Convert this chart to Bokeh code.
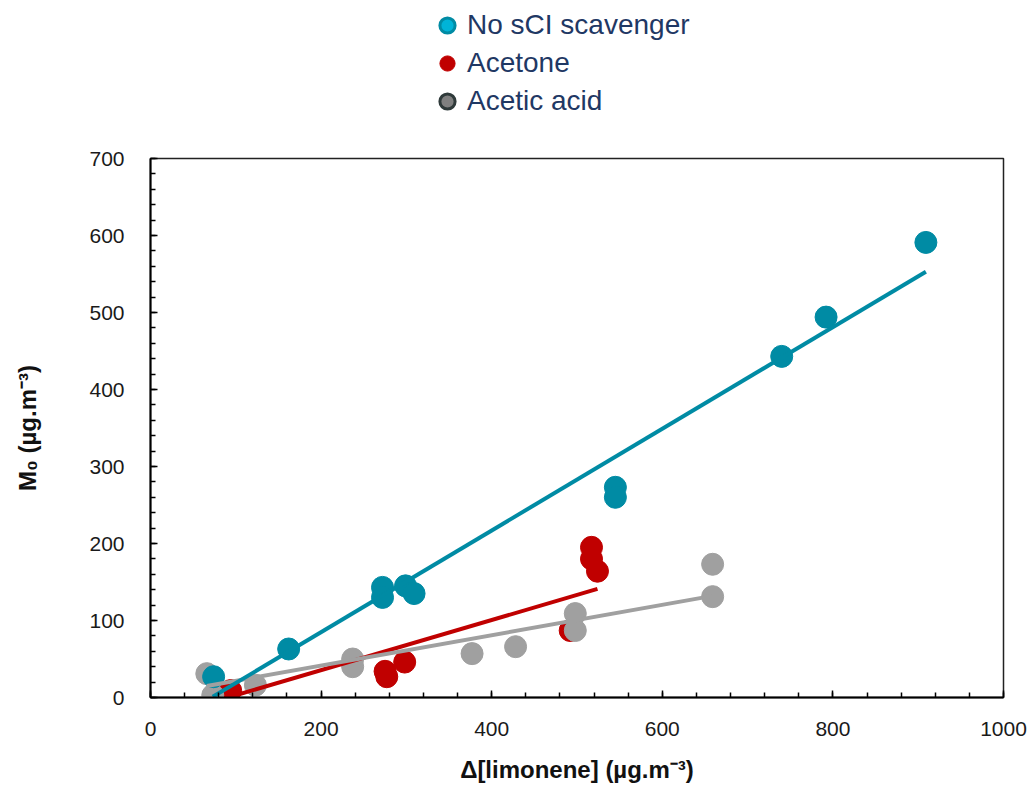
import numpy as np
from bokeh.plotting import figure
from bokeh.layouts import column
from bokeh.models import (ColumnDataSource, Range1d, SingleIntervalTicker,
                          Legend, LegendItem)
from bokeh.embed import file_html
from bokeh.resources import INLINE

# Series: Δ[limonene] (µg m-3) vs M0 (µg m-3)
no_scav_x = [74, 162, 272, 272, 299, 309, 545, 545, 740, 792, 909]
no_scav_y = [27, 63, 143, 130, 145, 135, 273, 260, 443, 494, 591]

acetone_x = [94, 275, 277, 298, 492, 517, 517, 524]
acetone_y = [9, 34, 27, 46, 87, 195, 180, 164]

acetic_x = [66, 73, 123, 237, 237, 377, 428, 498, 498, 659, 659]
acetic_y = [31, 3, 16, 50, 40, 57, 66, 109, 87, 173, 131]

# Linear trend lines (endpoints over each series' range)
no_scav_fit_x = [73, 909]
no_scav_fit_y = [1, 553]
acetone_fit_x = [97, 524]
acetone_fit_y = [2, 141]
acetic_fit_x = [66, 659]
acetic_fit_y = [15, 132]

series_names = ["No sCI scavenger", "Acetone", "Acetic acid"]

TEAL = "#008BA4"
RED = "#C00000"
GREY = "#A0A0A0"
FONT = "Liberation Sans"

# ---- main scatter plot ----
p = figure(width=1034, height=657, output_backend="svg", toolbar_location=None,
           x_range=Range1d(0, 1000), y_range=Range1d(0, 700),
           min_border_left=150, min_border_right=31,
           min_border_top=28, min_border_bottom=90)
p.xgrid.visible = False
p.ygrid.visible = False
p.outline_line_color = "#222222"
p.outline_line_width = 1.5
p.background_fill_color = "white"
p.border_fill_color = "white"

# markers: acetone below acetic acid, no-scavenger on top
p.scatter(acetone_x, acetone_y, size=22, fill_color=RED, line_color=RED)
p.scatter(acetic_x, acetic_y, size=22, fill_color=GREY, line_color=GREY)
p.scatter(no_scav_x, no_scav_y, size=22, fill_color=TEAL, line_color=TEAL)

# trend lines
p.line(acetone_fit_x, acetone_fit_y, line_color=RED, line_width=4)
p.line(acetic_fit_x, acetic_fit_y, line_color=GREY, line_width=4)
p.line(no_scav_fit_x, no_scav_fit_y, line_color=TEAL, line_width=4)

# axes
p.xaxis.ticker = SingleIntervalTicker(interval=200, num_minor_ticks=5)
p.yaxis.ticker = SingleIntervalTicker(interval=100, num_minor_ticks=5)
for ax in (p.xaxis[0], p.yaxis[0]):
    ax.axis_line_color = "black"
    ax.axis_line_width = 2
    ax.major_tick_in = 7
    ax.major_tick_out = 0
    ax.minor_tick_in = 5
    ax.minor_tick_out = 0
    ax.major_tick_line_color = "black"
    ax.major_tick_line_width = 1.5
    ax.minor_tick_line_color = "black"
    ax.minor_tick_line_width = 1.5
    ax.major_label_text_font = FONT
    ax.major_label_text_font_size = "21px"
    ax.major_label_text_color = "#1a1a1a"
    ax.axis_label_text_font = FONT
    ax.axis_label_text_font_size = "24px"
    ax.axis_label_text_font_style = "bold"
    ax.axis_label_text_color = "#111111"

p.xaxis.axis_label = "Δ[limonene] (µg.m⁻³)"
p.yaxis.axis_label = "M₀ (µg.m⁻³)"
p.xaxis.major_label_standoff = 24
p.xaxis.axis_label_standoff = 17
p.yaxis.major_label_standoff = 26
p.yaxis.axis_label_standoff = 45

# ---- legend strip above the plot ----
lg = figure(width=1034, height=130, output_backend="svg", toolbar_location=None,
            x_range=Range1d(0, 1034), y_range=Range1d(0, 130),
            min_border=0, outline_line_color=None)
lg.axis.visible = False
lg.xgrid.visible = False
lg.ygrid.visible = False
lg.border_fill_color = "white"

nan_src = ColumnDataSource(dict(x=[np.nan], y=[np.nan]))
r_leg_blue = lg.scatter("x", "y", source=nan_src, fill_color="#00B4D8",
                        line_color=TEAL, line_width=3)
r_leg_red = lg.scatter("x", "y", source=nan_src, fill_color=RED,
                       line_color=RED, line_width=1)
r_leg_grey = lg.scatter("x", "y", source=nan_src, fill_color="#808080",
                        line_color="#2F3A3A", line_width=3)

legend = Legend(items=[LegendItem(label=series_names[0], renderers=[r_leg_blue]),
                       LegendItem(label=series_names[1], renderers=[r_leg_red]),
                       LegendItem(label=series_names[2], renderers=[r_leg_grey])],
                location=(277, 10), orientation="vertical",
                glyph_width=40, glyph_height=38, label_standoff=0,
                spacing=0, padding=0, margin=0,
                border_line_alpha=0, background_fill_alpha=0,
                label_text_font=FONT, label_text_font_size="28px",
                label_text_color="#1F3864")
lg.add_layout(legend, "center")

layout = column(lg, p, spacing=0)
open("out.html", "w").write(file_html(layout, INLINE))
